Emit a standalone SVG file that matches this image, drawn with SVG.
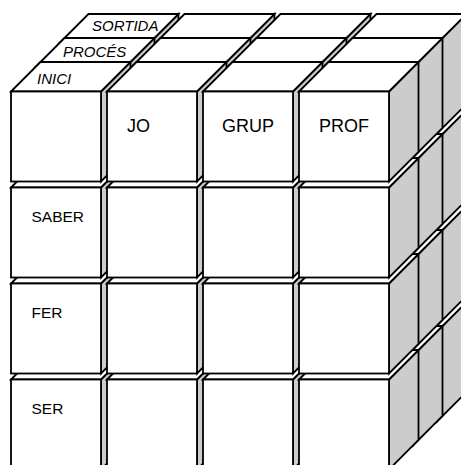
<svg xmlns="http://www.w3.org/2000/svg" xmlns:xlink="http://www.w3.org/1999/xlink" width="461" height="465" viewBox="0 0 461 465">
<style>
.face{fill:#ffffff;stroke:#000;stroke-width:1.8;stroke-linejoin:miter}
.side{fill:#cccccc;stroke:#000;stroke-width:1.8;stroke-linejoin:miter}
.lbl{font-family:"Liberation Sans",Arial,sans-serif;font-size:18px;fill:#000}
.row{font-family:"Liberation Sans",Arial,sans-serif;font-size:15.5px;fill:#000}
.stage{font-family:"Liberation Sans",Arial,sans-serif;font-size:15px;font-style:italic;fill:#000}
</style>
<defs>
<g id="cube">
<polygon class="side" points="90,0 119.5,-29.5 119.5,60.5 90,90"/>
<polygon class="face" points="0,0 29.5,-29.5 119.5,-29.5 90,0"/>
<rect class="face" x="0" y="0" width="90" height="90"/>
</g>
</defs>
<rect width="461" height="465" fill="#fff"/>
<g id="layer-sortida">
<g id="c-r4-c1-d3"><use xlink:href="#cube" x="59" y="331.5"/></g>
<g id="c-r4-c2-d3"><use xlink:href="#cube" x="155" y="331.5"/></g>
<g id="c-r4-c3-d3"><use xlink:href="#cube" x="251" y="331.5"/></g>
<g id="c-r4-c4-d3"><use xlink:href="#cube" x="347" y="331.5"/></g>
<g id="c-r3-c1-d3"><use xlink:href="#cube" x="59" y="235.5"/></g>
<g id="c-r3-c2-d3"><use xlink:href="#cube" x="155" y="235.5"/></g>
<g id="c-r3-c3-d3"><use xlink:href="#cube" x="251" y="235.5"/></g>
<g id="c-r3-c4-d3"><use xlink:href="#cube" x="347" y="235.5"/></g>
<g id="c-r2-c1-d3"><use xlink:href="#cube" x="59" y="139.5"/></g>
<g id="c-r2-c2-d3"><use xlink:href="#cube" x="155" y="139.5"/></g>
<g id="c-r2-c3-d3"><use xlink:href="#cube" x="251" y="139.5"/></g>
<g id="c-r2-c4-d3"><use xlink:href="#cube" x="347" y="139.5"/></g>
<g id="c-r1-c1-d3"><use xlink:href="#cube" x="59" y="43.5"/><text class="stage" x="92" y="30.5">SORTIDA</text></g>
<g id="c-r1-c2-d3"><use xlink:href="#cube" x="155" y="43.5"/></g>
<g id="c-r1-c3-d3"><use xlink:href="#cube" x="251" y="43.5"/></g>
<g id="c-r1-c4-d3"><use xlink:href="#cube" x="347" y="43.5"/></g>
</g>
<g id="layer-proces">
<g id="c-r4-c1-d2"><use xlink:href="#cube" x="35" y="355.5"/></g>
<g id="c-r4-c2-d2"><use xlink:href="#cube" x="131" y="355.5"/></g>
<g id="c-r4-c3-d2"><use xlink:href="#cube" x="227" y="355.5"/></g>
<g id="c-r4-c4-d2"><use xlink:href="#cube" x="323" y="355.5"/></g>
<g id="c-r3-c1-d2"><use xlink:href="#cube" x="35" y="259.5"/></g>
<g id="c-r3-c2-d2"><use xlink:href="#cube" x="131" y="259.5"/></g>
<g id="c-r3-c3-d2"><use xlink:href="#cube" x="227" y="259.5"/></g>
<g id="c-r3-c4-d2"><use xlink:href="#cube" x="323" y="259.5"/></g>
<g id="c-r2-c1-d2"><use xlink:href="#cube" x="35" y="163.5"/></g>
<g id="c-r2-c2-d2"><use xlink:href="#cube" x="131" y="163.5"/></g>
<g id="c-r2-c3-d2"><use xlink:href="#cube" x="227" y="163.5"/></g>
<g id="c-r2-c4-d2"><use xlink:href="#cube" x="323" y="163.5"/></g>
<g id="c-r1-c1-d2"><use xlink:href="#cube" x="35" y="67.5"/><text class="stage" x="63" y="57">PROCÉS</text></g>
<g id="c-r1-c2-d2"><use xlink:href="#cube" x="131" y="67.5"/></g>
<g id="c-r1-c3-d2"><use xlink:href="#cube" x="227" y="67.5"/></g>
<g id="c-r1-c4-d2"><use xlink:href="#cube" x="323" y="67.5"/></g>
</g>
<g id="layer-inici">
<g id="c-r4-c1-d1"><use xlink:href="#cube" x="11" y="379.5"/><text class="row" x="31.5" y="413.5">SER</text></g>
<g id="c-r4-c2-d1"><use xlink:href="#cube" x="107" y="379.5"/></g>
<g id="c-r4-c3-d1"><use xlink:href="#cube" x="203" y="379.5"/></g>
<g id="c-r4-c4-d1"><use xlink:href="#cube" x="299" y="379.5"/></g>
<g id="c-r3-c1-d1"><use xlink:href="#cube" x="11" y="283.5"/><text class="row" x="31.5" y="317.5">FER</text></g>
<g id="c-r3-c2-d1"><use xlink:href="#cube" x="107" y="283.5"/></g>
<g id="c-r3-c3-d1"><use xlink:href="#cube" x="203" y="283.5"/></g>
<g id="c-r3-c4-d1"><use xlink:href="#cube" x="299" y="283.5"/></g>
<g id="c-r2-c1-d1"><use xlink:href="#cube" x="11" y="187.5"/><text class="row" x="31.5" y="221.5">SABER</text></g>
<g id="c-r2-c2-d1"><use xlink:href="#cube" x="107" y="187.5"/></g>
<g id="c-r2-c3-d1"><use xlink:href="#cube" x="203" y="187.5"/></g>
<g id="c-r2-c4-d1"><use xlink:href="#cube" x="299" y="187.5"/></g>
<g id="c-r1-c1-d1"><use xlink:href="#cube" x="11" y="91.5"/><text class="stage" x="37" y="84">INICI</text></g>
<g id="c-r1-c2-d1"><use xlink:href="#cube" x="107" y="91.5"/><text class="lbl" x="127" y="131.5">JO</text></g>
<g id="c-r1-c3-d1"><use xlink:href="#cube" x="203" y="91.5"/><text class="lbl" x="222" y="131.5">GRUP</text></g>
<g id="c-r1-c4-d1"><use xlink:href="#cube" x="299" y="91.5"/><text class="lbl" x="319" y="131.5">PROF</text></g>
</g>
<g id="connectors"/>
</svg>
